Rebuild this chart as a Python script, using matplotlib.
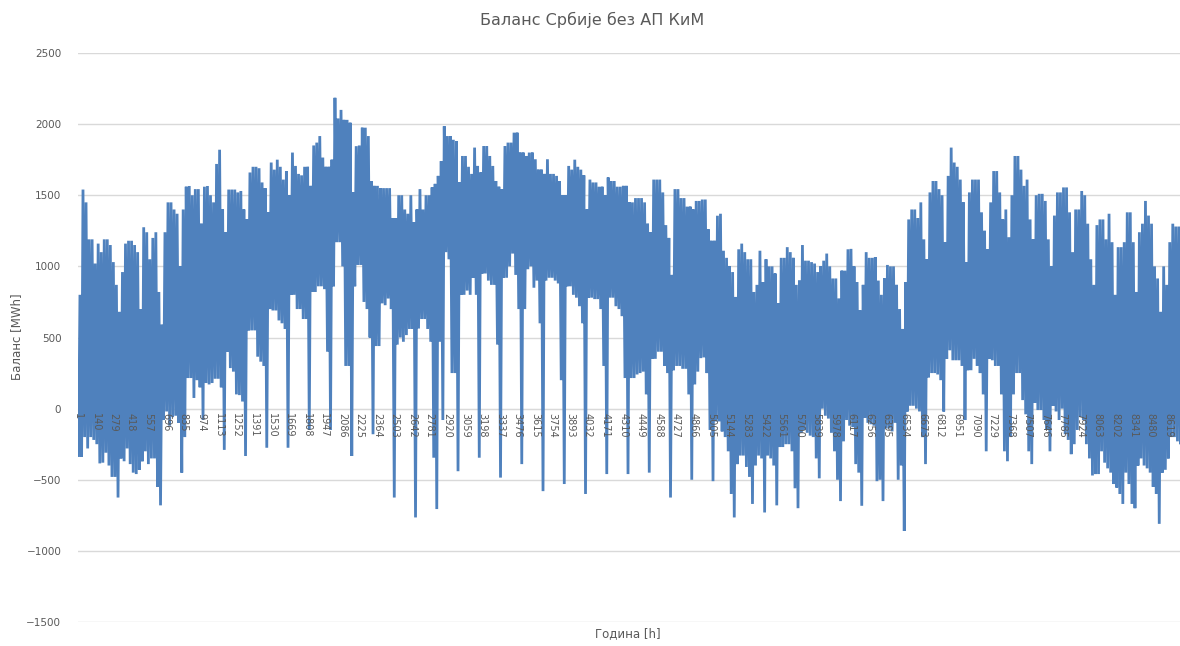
import numpy as np
import matplotlib
matplotlib.use("Agg")
import matplotlib.pyplot as plt

# Daily extremes of the hourly balance [MWh], one row per week (Mon..Sun)
day_max = [
    800, 1540, 1450, 1190, 1190, 1020, 1160,
    1100, 1190, 1190, 1150, 1030, 870, 680,
    960, 1160, 1180, 1180, 1150, 1100, 700,
    1275, 1240, 1050, 1200, 1240, 820, 590,
    1240, 1450, 1450, 1400, 1370, 1000, 1400,
    1560, 1565, 1500, 1543, 1543, 1300, 1560,
    1565, 1500, 1450, 1720, 1820, 1400, 1240,
    1540, 1540, 1540, 1520, 1530, 1400, 1330,
    1660, 1700, 1700, 1690, 1590, 1550, 1380,
    1730, 1680, 1750, 1700, 1610, 1670, 1500,
    1800, 1706, 1650, 1640, 1700, 1700, 1566,
    1850, 1870, 1916, 1765, 1700, 1700, 1750,
    2185, 2040, 2100, 2030, 2030, 2010, 1520,
    1845, 1850, 1975, 1975, 1916, 1600, 1566,
    1566, 1550, 1550, 1550, 1550, 1340, 1340,
    1500, 1500, 1400, 1370, 1500, 1310, 1400,
    1543, 1400, 1500, 1500, 1555, 1580, 1636,
    1740, 1985, 1916, 1916, 1890, 1880, 1590,
    1776, 1776, 1700, 1650, 1835, 1706, 1660,
    1846, 1846, 1776, 1706, 1600, 1560, 1543,
    1846, 1870, 1870, 1940, 1940, 1800, 1800,
    1776, 1800, 1800, 1753, 1680, 1680, 1650,
    1753, 1650, 1650, 1636, 1600, 1500, 1500,
    1706, 1680, 1750, 1700, 1680, 1640, 1400,
    1610, 1590, 1590, 1560, 1560, 1500, 1625,
    1600, 1600, 1560, 1560, 1566, 1566, 1450,
    1450, 1480, 1480, 1480, 1450, 1300, 1240,
    1610, 1610, 1610, 1520, 1290, 1200, 940,
    1543, 1543, 1480, 1480, 1420, 1420, 1400,
    1460, 1460, 1470, 1470, 1260, 1180, 1180,
    1356, 1370, 1110, 1060, 1000, 960, 785,
    1120, 1160, 1100, 1050, 1050, 820, 870,
    1110, 890, 1050, 1000, 1000, 950, 740,
    1060, 1060, 1135, 1100, 1060, 870, 900,
    1150, 1040, 1040, 1030, 1020, 960, 1000,
    1040, 1090, 1000, 915, 915, 775, 970,
    970, 1120, 1123, 1000, 890, 690, 870,
    1100, 1060, 1060, 1065, 900, 800, 915,
    1010, 1000, 1000, 870, 700, 560, 890,
    1330, 1400, 1400, 1340, 1450, 1190, 1050,
    1520, 1600, 1600, 1543, 1500, 1170, 1636,
    1835, 1730, 1700, 1610, 1450, 1030, 1520,
    1610, 1610, 1610, 1380, 1250, 1120, 1450,
    1670, 1670, 1520, 1330, 1400, 1205, 1500,
    1776, 1776, 1680, 1566, 1610, 1330, 1190,
    1500, 1510, 1510, 1460, 1190, 1000, 1357,
    1520, 1520, 1555, 1555, 1380, 1100, 1400,
    1400, 1530, 1500, 1300, 1050, 870, 1290,
    1330, 1330, 1190, 1370, 1170, 800, 1135,
    1135, 1170, 1380, 1380, 1170, 820, 1240,
    1300, 1460, 1357, 1300, 1000, 915, 680,
    1000, 870, 1170, 1300, 1280, 1280, 1300,
    1150,
]

day_min = [
    -330, -340, -200, -280, -200, -220, -250,
    -385, -380, -310, -400, -480, -480, -625,
    -350, -370, -280, -390, -450, -460, -430,
    -370, -300, -390, -350, -350, -550, -680,
    -80, -20, -120, -60, -50, -100, -450,
    -200, 215, 215, 75, 200, 150, -80,
    180, 170, 180, 210, 210, 150, -290,
    400, 285, 260, 100, 95, 50, -333,
    550, 550, 550, 365, 330, 300, -275,
    700, 690, 690, 620, 600, 560, -275,
    800, 800, 700, 700, 630, 630, -150,
    820, 820, 860, 860, 840, 400, -150,
    860, 1170, 1170, 1000, 300, 300, -333,
    860, 1010, 1010, 750, 700, 500, -180,
    440, 440, 740, 727, 774, 700, -625,
    450, 500, 470, 517, 560, 560, -765,
    563, 630, 630, 560, 470, -345, -706,
    470, -80, 1100, 1050, 250, 250, -440,
    800, 800, 830, 800, 920, 800, -345,
    950, 950, 900, 870, 870, 450, -485,
    920, 920, 1000, 1090, 940, 700, -390,
    700, 980, 1000, 850, 900, 600, -580,
    900, 920, 920, 900, 880, 200, -530,
    860, 860, 800, 780, 720, 600, -600,
    780, 780, 770, 770, 700, 300, -460,
    780, 780, 720, 700, 650, 215, -460,
    215, 215, 240, 250, 260, 100, -450,
    350, 350, 400, 400, 300, 250, -625,
    270, 300, 300, 280, 280, 100, -500,
    170, 260, 355, 360, 250, -150, -510,
    -90, -90, -160, -200, -300, -600, -765,
    -390, -330, -330, -410, -480, -670, -400,
    -330, -350, -730, -330, -350, -400, -680,
    -270, -270, -250, -250, -300, -560, -700,
    -170, -150, -170, -190, -200, -350, -490,
    0, -50, -70, -170, -300, -500, -650,
    -230, -80, -120, -130, -390, -450, -683,
    -65, -100, -110, -120, -510, -500, -650,
    -140, -140, -160, -100, -500, -400, -860,
    -20, 20, 20, 0, -20, -200, -390,
    220, 250, 250, 240, 200, -20, 350,
    410, 340, 340, 340, 300, -80, 270,
    270, 350, 300, 250, 100, -300, 350,
    340, 300, 300, 100, -300, -370, -200,
    100, 250, 250, 60, -40, -300, -390,
    40, -10, -10, -80, -150, -300, 20,
    -20, -80, 0, -180, -220, -320, -250,
    -150, -60, -80, -250, -350, -470, -460,
    -460, -300, -380, -420, -450, -530, -555,
    -600, -670, -450, -530, -670, -700, -400,
    -350, -400, -420, -450, -550, -600, -810,
    -450, -430, -350, -200, -200, -230, -250,
    -220,
]

tick_hours = list(range(1, 8620, 139))
title = "Баланс Србије без АП КиМ"
y_title = "Баланс [MWh]"
x_title = "Година [h]"

# night minimum and daytime maximum of every day, as hour-of-year points
days = np.arange(len(day_max))
hours = np.column_stack([days * 24 + 5, days * 24 + 16]).ravel()
balance = np.column_stack([day_min, day_max]).ravel()

W, H = 1180, 646
fig = plt.figure(figsize=(W / 100, H / 100), dpi=100)
left, right, top, bottom = 78, 1186, 53, 622
ax = fig.add_axes([left / W, 1 - bottom / H, (right - left) / W, (bottom - top) / H])

ax.plot(hours, balance, color="#4f81bd", lw=2.0, zorder=2,
        solid_joinstyle="miter")

ax.set_xlim(0.5, 8760.5)
ax.set_ylim(-1500, 2500)
ax.set_yticks(range(-1500, 2501, 500))
ax.set_xticks(tick_hours)
ax.set_xticklabels([str(t) for t in tick_hours])

ax.grid(axis="y", color="#d9d9d9", lw=1)
ax.set_axisbelow(True)
for s in ("top", "right", "left"):
    ax.spines[s].set_visible(False)
ax.spines["bottom"].set_position(("data", 0))
ax.spines["bottom"].set_color("#d9d9d9")
ax.spines["bottom"].set_zorder(1)
ax.xaxis.set_zorder(3)

ax.tick_params(axis="y", length=0, pad=12, labelsize=7.5, labelcolor="#595959")
ax.tick_params(axis="x", length=0, pad=3, labelsize=7, labelcolor="#595959",
               labelrotation=270)
for lab in ax.get_xticklabels():
    lab.set_va("top")
    lab.set_ha("center")

fig.text(592 / W, 1 - 20 / H, title, ha="center", va="center",
         fontsize=11.5, color="#595959")
fig.text(17 / W, 1 - 337 / H, y_title, ha="center", va="center",
         rotation=90, fontsize=8.5, color="#595959")
fig.text(628 / W, 1 - 634 / H, x_title, ha="center", va="center",
         fontsize=8.5, color="#595959")

fig.savefig("out.png", dpi=100)
